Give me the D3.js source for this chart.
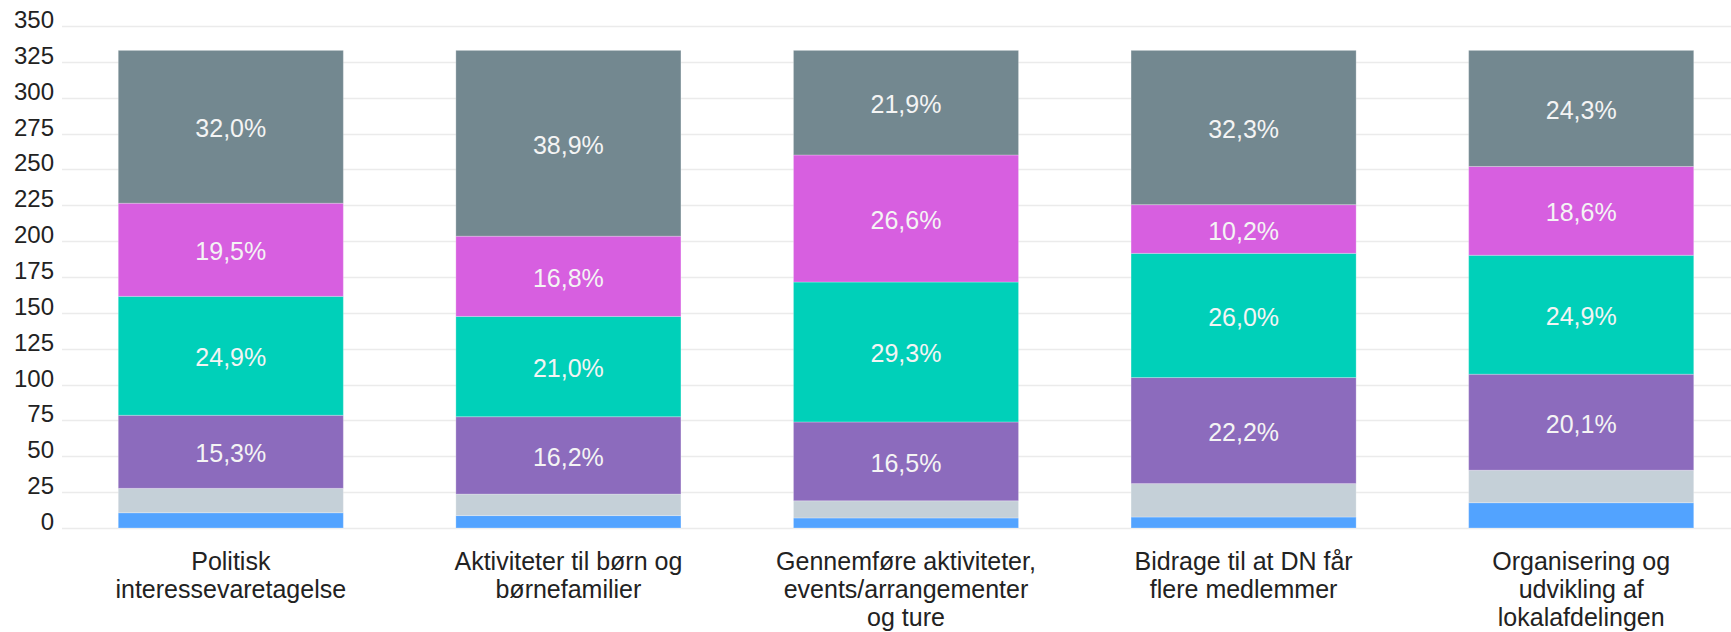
<!DOCTYPE html>
<html>
<head>
<meta charset="utf-8">
<script src="https://cdn.jsdelivr.net/npm/d3@7"></script>
<style>
  body { margin: 0; background: #fff; }
  svg { display: block; font-family: "Liberation Sans", Arial, sans-serif; }
</style>
</head>
<body>
<div id="chart"></div>
<script>
// categories (line breaks as in the original)
const categories = [
  "Politisk\ninteressevaretagelse",
  "Aktiviteter til børn og\nbørnefamilier",
  "Gennemføre aktiviteter,\nevents/arrangementer\nog ture",
  "Bidrage til at DN får\nflere medlemmer",
  "Organisering og\nudvikling af\nlokalafdelingen"
];
const totals = [333, 333, 333, 333, 333];

// shares in percent, bottom to top
const blue      = [3.2, 2.6, 2.1, 2.3, 5.3];
const lightgray = [5.1, 4.5, 3.6, 7.0, 6.8];
const purple    = [15.3, 16.2, 16.5, 22.2, 20.1];
const teal      = [24.9, 21.0, 29.3, 26.0, 24.9];
const magenta   = [19.5, 16.8, 26.6, 10.2, 18.6];
const slate     = [32.0, 38.9, 21.9, 32.3, 24.3];

const seriesKeys = ["blue", "lightgray", "purple", "teal", "magenta", "slate"];
const seriesData = {blue, lightgray, purple, teal, magenta, slate};
const colors = ["#52a3ff", "#c5d0d8", "#8c6bbd", "#00d0b9", "#d75fe0", "#738890"];
const labelled = [false, false, true, true, true, true];

const yTicks = d3.range(0, 351, 25);

const width = 1731, height = 632;
const svg = d3.select("#chart").append("svg")
  .attr("width", width)
  .attr("height", height);

const x = d3.scaleBand()
  .domain(categories)
  .range([62, 1750])
  .paddingInner(1 / 3)
  .paddingOuter(1 / 6);

const y = d3.scaleLinear()
  .domain([0, 350])
  .range([528, 26]);

// grid
svg.append("g")
  .selectAll("line")
  .data(yTicks)
  .join("line")
  .attr("x1", 62)
  .attr("x2", width)
  .attr("y1", d => Math.round(y(d)) + 0.5)
  .attr("y2", d => Math.round(y(d)) + 0.5)
  .attr("stroke", "#ebebeb")
  .attr("stroke-width", 1.5);

svg.append("g")
  .selectAll("text")
  .data(yTicks)
  .join("text")
  .attr("x", 54)
  .attr("y", d => y(d) + 2)
  .attr("text-anchor", "end")
  .attr("font-size", 24)
  .attr("fill", "#222")
  .text(d => d);

// build table of counts
const table = categories.map((c, i) => {
  const row = {cat: c};
  seriesKeys.forEach(k => { row[k] = seriesData[k][i] / 100 * totals[i]; });
  return row;
});

const stack = d3.stack().keys(seriesKeys)(table);

const fmt = v => v.toFixed(1).replace(".", ",") + "%";

const layers = svg.append("g")
  .selectAll("g")
  .data(stack)
  .join("g")
  .attr("fill", (d, i) => colors[i]);

layers.selectAll("rect")
  .data(d => d)
  .join("rect")
  .attr("x", d => x(d.data.cat))
  .attr("width", x.bandwidth())
  .attr("y", d => y(d[1]))
  .attr("height", d => y(d[0]) - y(d[1]))
  .attr("stroke", "rgba(255,255,255,0.25)")
  .attr("stroke-width", 1);

stack.forEach((layer, si) => {
  if (!labelled[si]) return;
  svg.append("g")
    .selectAll("text")
    .data(layer)
    .join("text")
    .attr("x", d => x(d.data.cat) + x.bandwidth() / 2)
    .attr("y", d => (y(d[0]) + y(d[1])) / 2)
    .attr("dy", "0.42em")
    .attr("text-anchor", "middle")
    .attr("font-size", 25)
    .attr("fill", "#f4f4f4")
    .text((d, i) => fmt(seriesData[seriesKeys[si]][i]));
});

// category labels
const cats = svg.append("g")
  .selectAll("text")
  .data(categories)
  .join("text")
  .attr("x", d => x(d) + x.bandwidth() / 2)
  .attr("y", 570)
  .attr("text-anchor", "middle")
  .attr("font-size", 25)
  .attr("fill", "#222");

cats.selectAll("tspan")
  .data(d => d.split("\n"))
  .join("tspan")
  .attr("x", function () { return this.parentNode.getAttribute("x"); })
  .attr("dy", (d, i) => i === 0 ? 0 : 28)
  .text(d => d);
</script>
</body>
</html>
